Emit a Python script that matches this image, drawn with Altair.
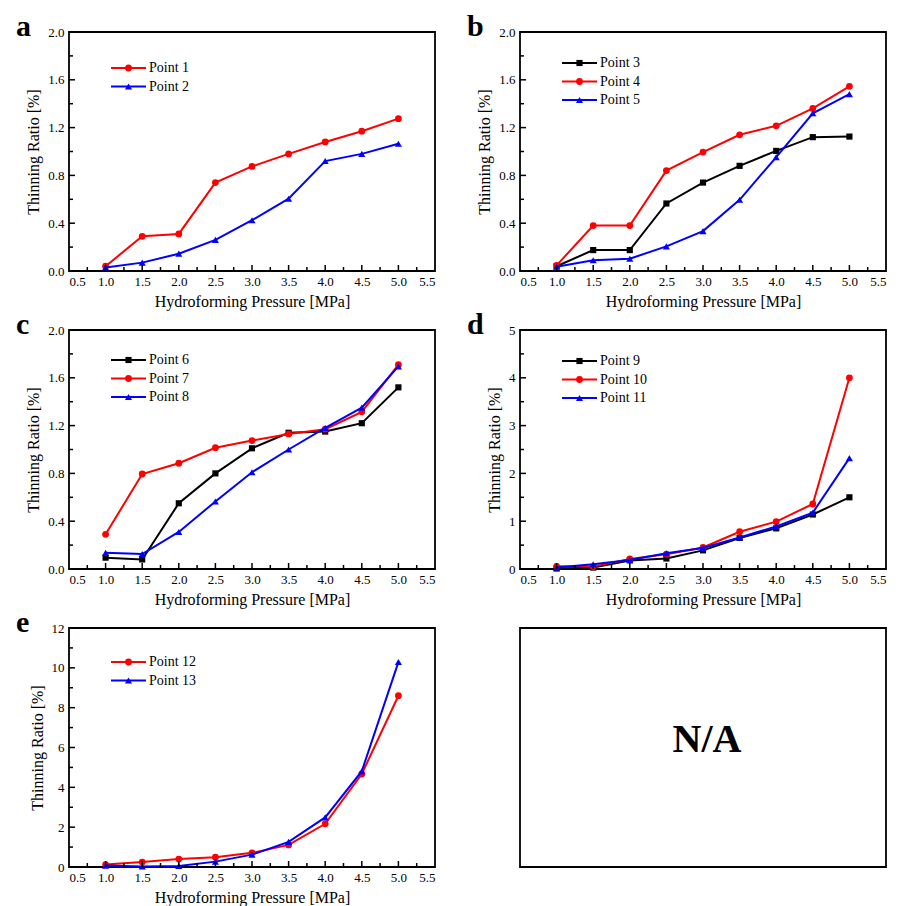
import altair as alt
import pandas as pd

# ---------------- data ----------------
pressure = [1.0, 1.5, 2.0, 2.5, 3.0, 3.5, 4.0, 4.5, 5.0]

point_1 = [0.04, 0.29, 0.31, 0.74, 0.875, 0.98, 1.08, 1.17, 1.275]
point_2 = [0.03, 0.07, 0.145, 0.26, 0.425, 0.605, 0.92, 0.98, 1.065]
point_3 = [0.04, 0.175, 0.175, 0.565, 0.74, 0.88, 1.005, 1.12, 1.125]
point_4 = [0.047, 0.38, 0.38, 0.84, 0.995, 1.14, 1.215, 1.36, 1.545]
point_5 = [0.036, 0.09, 0.103, 0.206, 0.334, 0.596, 0.953, 1.32, 1.48]
point_6 = [0.095, 0.08, 0.55, 0.80, 1.01, 1.14, 1.15, 1.22, 1.52]
point_7 = [0.29, 0.795, 0.885, 1.015, 1.075, 1.13, 1.17, 1.315, 1.71]
point_8 = [0.135, 0.125, 0.31, 0.565, 0.81, 1.0, 1.18, 1.35, 1.695]
point_9 = [0.01, 0.03, 0.18, 0.22, 0.39, 0.65, 0.85, 1.14, 1.50]
point_10 = [0.055, 0.05, 0.21, 0.31, 0.45, 0.78, 0.99, 1.36, 4.0]
point_11 = [0.03, 0.10, 0.19, 0.33, 0.44, 0.66, 0.89, 1.18, 2.32]
point_12 = [0.12, 0.25, 0.40, 0.49, 0.71, 1.11, 2.17, 4.67, 8.6]
point_13 = [0.07, 0.03, 0.05, 0.27, 0.62, 1.26, 2.49, 4.81, 10.29]

series_names = ["Point %d" % i for i in range(1, 14)]
series_values = [point_1, point_2, point_3, point_4, point_5, point_6, point_7,
                 point_8, point_9, point_10, point_11, point_12, point_13]
series_colors = ["#ff0000", "#0000ff", "#000000", "#ff0000", "#0000ff", "#000000",
                 "#ff0000", "#0000ff", "#000000", "#ff0000", "#0000ff", "#ff0000", "#0000ff"]
series_shapes = ["circle", "triangle-up", "square", "circle", "triangle-up", "square",
                 "circle", "triangle-up", "square", "circle", "triangle-up", "circle", "triangle-up"]

panel_letters = ["a", "b", "c", "d", "e"]
panel_series = [["Point 1", "Point 2"],
                ["Point 3", "Point 4", "Point 5"],
                ["Point 6", "Point 7", "Point 8"],
                ["Point 9", "Point 10", "Point 11"],
                ["Point 12", "Point 13"]]
panel_ymax = [2.0, 2.0, 2.0, 5, 12]
panel_ystep = [0.4, 0.4, 0.4, 1, 2]
panel_yfmt = [".1f", ".1f", ".1f", "d", "d"]
legend_top = [36, 31, 30, 31, 34]

x_labels = [0.5, 1.0, 1.5, 2.0, 2.5, 3.0, 3.5, 4.0, 4.5, 5.0, 5.5]
x_minor = [0.75, 1.25, 1.75, 2.25, 2.75, 3.25, 3.75, 4.25, 4.75, 5.25]

x_title = "Hydroforming Pressure [MPa]"
y_title = "Thinning Ratio [%]"
na_text = "N/A"

# ---------------- layout / style ----------------
W, H = 366, 239
FONT = "Liberation Serif"
size_of = {"circle": 46, "triangle-up": 50, "square": 38}

lookup = {n: (v, c, s) for n, v, c, s in zip(series_names, series_values, series_colors, series_shapes)}


def make_panel(k):
    letter = panel_letters[k]
    names = panel_series[k]
    ymax = panel_ymax[k]
    ystep = panel_ystep[k]
    nmaj = int(round(ymax / ystep))
    y_major = [round(i * ystep, 4) for i in range(nmaj + 1)]
    y_minor = [round((i + 0.5) * ystep, 4) for i in range(nmaj)]

    xs = alt.Scale(domain=[0.5, 5.5], nice=False, zero=False)
    ys = alt.Scale(domain=[0, ymax], nice=False, zero=False)
    x_axis = alt.Axis(values=x_labels, format=".1f", title=x_title, ticks=False, tickSize=0,
                      domain=False, grid=False, labelPadding=4, titlePadding=5)
    y_axis = alt.Axis(values=y_major, format=panel_yfmt[k], title=y_title, ticks=False, tickSize=0,
                      domain=False, grid=False, labelPadding=5, titlePadding=6)

    def X(f):
        return alt.X(f, scale=xs, axis=x_axis)

    def Y(f):
        return alt.Y(f, scale=ys, axis=y_axis)

    layers = []
    for name in names:
        vals, col, shp = lookup[name]
        df = pd.DataFrame({"x": pressure, "y": vals})
        base = alt.Chart(df)
        layers.append(base.mark_line(color=col, strokeWidth=2).encode(x=X("x:Q"), y=Y("y:Q")))
        layers.append(base.mark_point(color=col, filled=True, opacity=1, shape=shp,
                                      size=size_of[shp]).encode(x=X("x:Q"), y=Y("y:Q")))

    # inward ticks
    layers.append(alt.Chart(pd.DataFrame({"v": x_labels[1:-1]})).mark_rule(
        color="black", strokeWidth=1.5).encode(x=X("v:Q"), y=alt.value(H), y2=alt.value(H - 6)))
    layers.append(alt.Chart(pd.DataFrame({"v": x_minor})).mark_rule(
        color="black", strokeWidth=1.5).encode(x=X("v:Q"), y=alt.value(H), y2=alt.value(H - 4)))
    layers.append(alt.Chart(pd.DataFrame({"v": y_major[1:-1]})).mark_rule(
        color="black", strokeWidth=1.5).encode(y=Y("v:Q"), x=alt.value(0), x2=alt.value(6)))
    layers.append(alt.Chart(pd.DataFrame({"v": y_minor})).mark_rule(
        color="black", strokeWidth=1.5).encode(y=Y("v:Q"), x=alt.value(0), x2=alt.value(4)))

    # legend rows inside the plot
    y0 = legend_top[k]
    for j, name in enumerate(names):
        _, col, shp = lookup[name]
        yv = y0 + 18.5 * j
        row = alt.Chart(alt.Data(values=[{"s": name}]))
        layers.append(row.mark_rule(color=col, strokeWidth=2).encode(
            x=alt.value(42), x2=alt.value(77), y=alt.value(yv)))
        layers.append(row.mark_point(color=col, filled=True, opacity=1, shape=shp,
                                     size=size_of[shp]).encode(x=alt.value(59.5), y=alt.value(yv)))
        layers.append(row.mark_text(align="left", baseline="middle", font=FONT, fontSize=14,
                                    color="black").encode(x=alt.value(80), y=alt.value(yv), text="s:N"))

    # panel letter
    layers.append(alt.Chart(alt.Data(values=[{"t": letter}])).mark_text(
        align="left", baseline="alphabetic", font=FONT, fontSize=30, fontWeight="bold",
        color="black").encode(x=alt.value(-53), y=alt.value(4), text="t:N"))

    return alt.layer(*layers).properties(width=W, height=H)


panels = [make_panel(k) for k in range(5)]

na_panel = alt.Chart(alt.Data(values=[{"t": na_text}])).mark_text(
    align="center", baseline="middle", font=FONT, fontSize=40, fontWeight="bold",
    color="black").encode(x=alt.value(W / 2 + 4), y=alt.value(H / 2 - 8), text="t:N").properties(
    width=W, height=H)

chart = alt.concat(*panels, na_panel, columns=2,
                   spacing={"row": 59, "column": 85}, bounds="flush").configure_view(
    stroke="black", strokeWidth=1.8).configure_axis(
    labelFont=FONT, labelFontSize=13, labelColor="black",
    titleFont=FONT, titleFontSize=16, titleFontWeight="normal", titleColor="black").properties(
    padding={"left": 7, "top": 3, "right": 0, "bottom": 0}, background="white")

chart.save("out.html", embed_options={"renderer": "svg", "actions": False})
